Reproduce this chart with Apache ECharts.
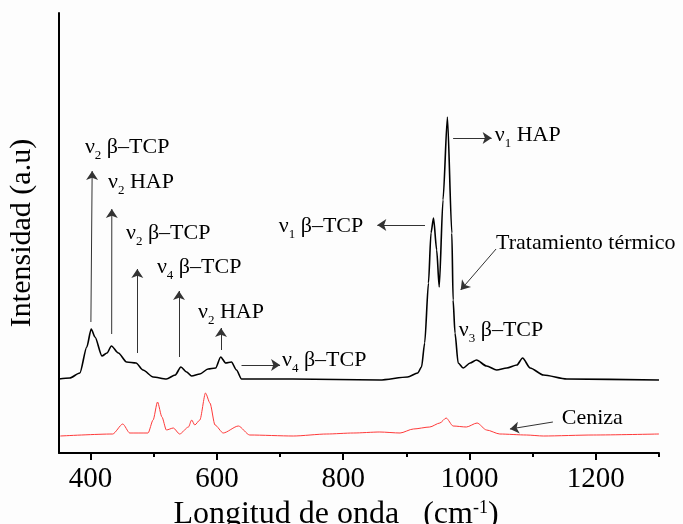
<!DOCTYPE html>
<html>
<head>
<meta charset="utf-8">
<script src="https://cdn.jsdelivr.net/npm/echarts@6/dist/echarts.min.js"></script>
<style>
html,body{margin:0;padding:0;background:#fdfdfd;}
#c{width:683px;height:524px;}
</style>
</head>
<body>
<div id="c"></div>
<script>
// ---- data ----
const wavenumberBlack = [350,367,383,394,401,407,418,426,433,444,457,472,483,499,520,534,543,552,560,573,586,598,606,614,623,631,639,720,858,902,918,924,929,935,939,943,948,952,958,965,972,974,977,982,990,1001,1011,1027,1043,1059,1075,1084,1096,1117,1154,1300];
const intensityBlack = [74,75,80,106,124,116,97,100,107,100,91,90,83,76,74,78,86,81,77,79,84,85,96,90,91,83,74,74,73,76,80,86,110,170,220,235,203,166,253,336,220,153,120,90,85,90,93,87,83,85,88,95,85,78,74,73];
const wavenumberRed = [352,435,451,462,491,499,506,513,520,531,541,555,560,565,573,582,589,597,610,634,652,721,774,816,858,890,911,937,953,963,974,995,1012,1027,1048,1090,1117,1196,1300];
const intensityRed = [17,19,29,20,20,33,51,36,23,25,19,26,33,28,33,60,50,28,20,27,18,17,19,20,21,20,24,26,30,35,27,26,30,23,19,18,17,18,19];
const majorTicks = [400,600,800,1000,1200];
const minorTicks = [500,700,900,1100,1300];
// annotation arrows: [x, y] start and end in data units
const arrowFrom = [[400.5,131],[433.4,119],[474,100],[540,96],[606.5,103],[639,88],[929.5,228],[974,315],[1042,204],[1132,31]];
const arrowTo   = [[402.5,282],[433.6,244],[474,184],[540,162],[606.5,125],[700,88],[854,228],[1035,315],[986,163],[1064,24]];
// annotation labels: [subscript, text]
const labelText = [['2',' β–TCP'],['2',' HAP'],['2',' β–TCP'],['4',' β–TCP'],['2',' HAP'],['4',' β–TCP'],['1',' β–TCP'],['1',' HAP'],['','Tratamiento térmico'],['3',' β–TCP'],['','Ceniza']];
const labelAt = [[391,306],[427.6,271],[456,220],[505,186],[570,141],[703,93],[698,227],[1040,318],[1042,210],[983,123],[1146,35]];

const serif = '"Liberation Serif","Times New Roman",serif';
const chart = echarts.init(document.getElementById('c'), null, {renderer:'canvas'});

function pairs(xs, ys){ return xs.map((x,i)=>[x, ys[i]]); }
const arrowData = arrowFrom.map((f,i)=>[{coord:f},{coord:arrowTo[i]}]);

chart.setOption({
  backgroundColor:'#fdfdfd',
  animation:false,
  grid:{left:59,right:24,top:13,bottom:71,containLabel:false,outerBoundsMode:'none'},
  xAxis:[{
    type:'value',min:350,max:1300,position:'bottom',
    axisLine:{show:true,onZero:false,lineStyle:{color:'#000',width:2}},
    axisTick:{show:true,inside:false,length:7,lineStyle:{color:'#000',width:2},customValues:majorTicks},
    axisLabel:{show:true,customValues:majorTicks,color:'#000',fontFamily:serif,fontSize:29,margin:12,
      formatter:function(v){return String(v);}},
    splitLine:{show:false},
    name:'Longitud de onda   (cm{sup|-1})',nameLocation:'middle',nameGap:42,
    nameTextStyle:{color:'#000',fontFamily:serif,fontSize:32,lineHeight:32,padding:[0,46,0,0],
      rich:{sup:{fontFamily:serif,fontSize:18,verticalAlign:'top',lineHeight:13,color:'#000'}}}
  },{
    type:'value',min:350,max:1300,position:'bottom',show:true,
    axisLine:{show:true,onZero:false,lineStyle:{color:'rgba(0,0,0,0)',width:2}},
    axisTick:{show:true,inside:false,length:4,lineStyle:{color:'#000',width:2},customValues:minorTicks},
    axisLabel:{show:false},splitLine:{show:false}
  }],
  yAxis:{
    type:'value',min:0,max:440,
    axisLine:{show:true,onZero:false,lineStyle:{color:'#000',width:2}},
    axisTick:{show:false},axisLabel:{show:false},splitLine:{show:false},
    name:'Intensidad (a.u)',nameLocation:'middle',nameRotate:90,nameGap:22,
    nameTextStyle:{color:'#000',fontFamily:serif,fontSize:30}
  },
  series:[{
    name:'Tratamiento térmico',type:'line',xAxisIndex:0,yAxisIndex:0,
    data:pairs(wavenumberBlack,intensityBlack),
    showSymbol:false,smooth:0.25,smoothMonotone:'x',
    lineStyle:{color:'#000',width:1.6},itemStyle:{color:'#000'},
    markLine:{silent:true,symbol:['none','arrow'],symbolSize:9,
      label:{show:false},
      lineStyle:{color:'#333',width:1,type:'solid'},
      itemStyle:{color:'#000'},
      emphasis:{disabled:true},
      data:arrowData}
  },{
    name:'Ceniza',type:'line',xAxisIndex:0,yAxisIndex:0,
    data:pairs(wavenumberRed,intensityRed),
    showSymbol:false,smooth:0.25,smoothMonotone:'x',
    lineStyle:{color:'#ff3a3a',width:1},itemStyle:{color:'#ff3a3a'}
  }]
});

const rich = {
  g:{fontFamily:serif,fontSize:22,lineHeight:30,color:'#000'},
  s:{fontFamily:serif,fontSize:13,lineHeight:12,verticalAlign:'bottom',color:'#000'}
};
const graphics = labelText.map((t,i)=>{
  const p = chart.convertToPixel({xAxisIndex:0,yAxisIndex:0}, labelAt[i]);
  const txt = t[0] ? '{g|ν}{s|'+t[0]+'}{g|'+t[1]+'}' : '{g|'+t[1]+'}';
  return {type:'text',x:p[0],y:p[1],silent:true,
    style:{text:txt,rich:rich,align:'left',verticalAlign:'middle',fill:'#000'}};
});
chart.setOption({graphic:graphics});
</script>
</body>
</html>
